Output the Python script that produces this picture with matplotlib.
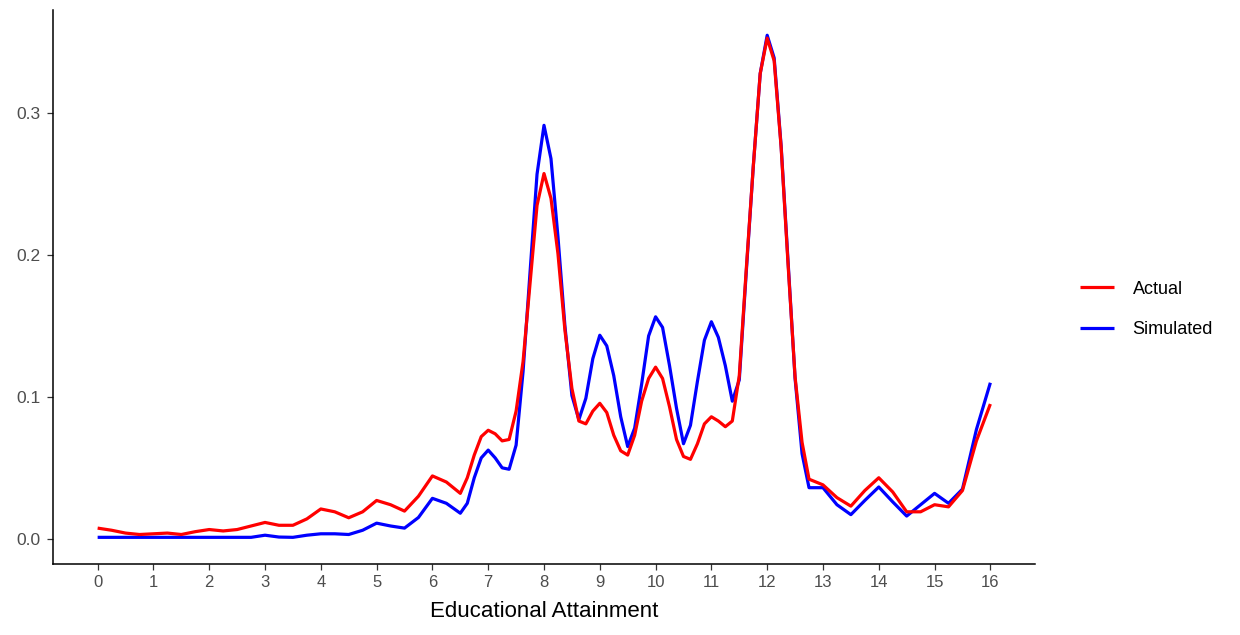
import matplotlib
matplotlib.use("Agg")
import matplotlib.pyplot as plt

plt.rcParams['font.family'] = ['Liberation Sans', 'DejaVu Sans']

# grille des x (plus fine autour des pics)
x = [0, 0.25, 0.5, 0.75, 1, 1.25, 1.5, 1.75, 2, 2.25, 2.5, 2.75, 3, 3.25, 3.5, 3.75,
     4, 4.25, 4.5, 4.75, 5, 5.25, 5.5, 5.75, 6, 6.25, 6.5,
     6.625, 6.75, 6.875, 7, 7.125, 7.25, 7.375, 7.5, 7.625, 7.75, 7.875,
     8, 8.125, 8.25, 8.375, 8.5, 8.625, 8.75, 8.875,
     9, 9.125, 9.25, 9.375, 9.5, 9.625, 9.75, 9.875,
     10, 10.125, 10.25, 10.375, 10.5, 10.625, 10.75, 10.875,
     11, 11.125, 11.25, 11.375, 11.5, 11.625, 11.75, 11.875,
     12, 12.125, 12.25, 12.375, 12.5, 12.625, 12.75, 12.875,
     13, 13.25, 13.5, 13.75, 14, 14.25, 14.5, 14.75, 15, 15.25, 15.5, 15.75, 16]

actual = [0.0075, 0.006, 0.004, 0.003, 0.0035, 0.004, 0.003, 0.005, 0.0065, 0.0055, 0.0065, 0.009,
          0.0115, 0.0095, 0.0095, 0.014, 0.021, 0.019, 0.0148, 0.019, 0.027, 0.024, 0.0195, 0.030,
          0.0443, 0.040, 0.032,
          0.043, 0.059, 0.072, 0.0765, 0.074, 0.069, 0.070, 0.090, 0.125, 0.180, 0.235,
          0.2575, 0.240, 0.201, 0.147, 0.106, 0.083, 0.081, 0.090,
          0.0955, 0.089, 0.073, 0.062, 0.059, 0.073, 0.097, 0.113,
          0.121, 0.113, 0.093, 0.070, 0.058, 0.056, 0.067, 0.081,
          0.086, 0.083, 0.079, 0.083, 0.115, 0.190, 0.262, 0.328,
          0.353, 0.337, 0.276, 0.193, 0.114, 0.068, 0.042, 0.040,
          0.038, 0.029, 0.023, 0.034, 0.043, 0.033, 0.019, 0.019, 0.024, 0.0225, 0.034, 0.069, 0.095]

simulated = [0.001, 0.001, 0.001, 0.001, 0.001, 0.001, 0.001, 0.001, 0.001, 0.001, 0.001, 0.001,
             0.0025, 0.0012, 0.001, 0.0025, 0.0035, 0.0035, 0.003, 0.006, 0.011, 0.009, 0.0075, 0.015,
             0.0285, 0.025, 0.018,
             0.025, 0.043, 0.057, 0.0625, 0.057, 0.050, 0.049, 0.066, 0.118, 0.188, 0.257,
             0.2915, 0.268, 0.213, 0.150, 0.101, 0.084, 0.099, 0.127,
             0.1435, 0.136, 0.115, 0.086, 0.065, 0.078, 0.109, 0.143,
             0.1565, 0.149, 0.122, 0.092, 0.067, 0.080, 0.111, 0.140,
             0.153, 0.142, 0.122, 0.097, 0.112, 0.188, 0.262, 0.328,
             0.355, 0.339, 0.277, 0.195, 0.113, 0.060, 0.036, 0.036,
             0.036, 0.024, 0.017, 0.027, 0.0365, 0.026, 0.016, 0.024, 0.032, 0.025, 0.035, 0.077, 0.110]

xticks = list(range(0, 17))
yticks = [0.0, 0.1, 0.2, 0.3]

fig = plt.figure(figsize=(12.4, 6.35), dpi=100)
ax = fig.add_axes([53 / 1240, 71 / 635, (1035 - 53) / 1240, (564 - 10) / 635])

ax.plot(x, simulated, color="#0000FF", lw=2.3, label="Simulated",
        solid_joinstyle="round", solid_capstyle="butt")
ax.plot(x, actual, color="#FF0000", lw=2.3, label="Actual",
        solid_joinstyle="round", solid_capstyle="butt")

ax.set_xlim(-0.8, 16.8)
ax.set_ylim(-0.0178, 0.3728)
ax.set_xticks(xticks)
ax.set_yticks(yticks)
ax.set_yticklabels(["%.1f" % v for v in yticks])
ax.set_xlabel("Educational Attainment", fontsize=16, color="black", labelpad=8)

for s in ["top", "right"]:
    ax.spines[s].set_visible(False)
for s in ["left", "bottom"]:
    ax.spines[s].set_linewidth(1.1)
    ax.spines[s].set_color("black")
ax.tick_params(axis="both", length=4, width=0.9, color="#333333",
               labelsize=12, labelcolor="#4D4D4D", pad=4)
ax.tick_params(axis="y", labelsize=12.5, pad=5)

handles, labels = ax.get_legend_handles_labels()
fig.legend(handles[::-1], labels[::-1], loc="center left",
           bbox_to_anchor=(1064 / 1240, 1 - 309.5 / 635), frameon=False,
           fontsize=13, handlelength=1.85, labelspacing=1.3, handletextpad=1.05)

fig.savefig("out.png", dpi=100)
